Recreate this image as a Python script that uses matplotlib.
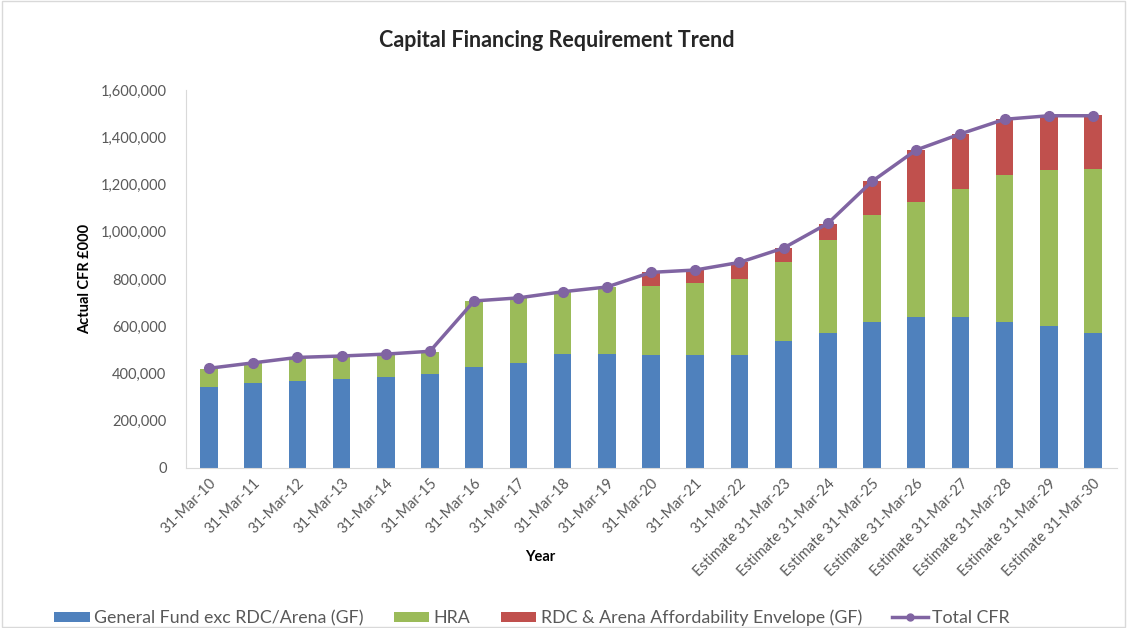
import numpy as np
import matplotlib.pyplot as plt
from matplotlib.ticker import FuncFormatter
from matplotlib.patches import Rectangle

plt.rcParams['font.family'] = ['Lato', 'DejaVu Sans']

years = ['31-Mar-10', '31-Mar-11', '31-Mar-12', '31-Mar-13', '31-Mar-14',
         '31-Mar-15', '31-Mar-16', '31-Mar-17', '31-Mar-18', '31-Mar-19',
         '31-Mar-20', '31-Mar-21', '31-Mar-22',
         'Estimate 31-Mar-23', 'Estimate 31-Mar-24', 'Estimate 31-Mar-25',
         'Estimate 31-Mar-26', 'Estimate 31-Mar-27', 'Estimate 31-Mar-28',
         'Estimate 31-Mar-29', 'Estimate 31-Mar-30']

# values in £000
general_fund = [342000, 361000, 370000, 375000, 387000, 397000, 427000, 445000,
                482000, 484000, 477000, 477000, 477000, 537000, 572000, 620000,
                641000, 641000, 620000, 599000, 572000]
hra = [76000, 82000, 95000, 97000, 93000, 96000, 278000, 274000, 262000,
       282000, 294000, 304000, 325000, 336000, 393000, 451000, 485000,
       540000, 621000, 661000, 694000]
rdc_arena = [0, 0, 0, 0, 0, 0, 0, 0, 0, 0, 57000, 55000, 68000, 58000,
             69000, 142000, 219000, 234000, 237000, 233000, 227000]
total_cfr = [422000, 445000, 468000, 474000, 482000, 494000, 707000, 720000,
             746000, 766000, 828000, 838000, 870000, 931000, 1035000, 1213000,
             1346000, 1414000, 1476000, 1491000, 1491000]

c_blue = '#4F81BD'
c_green = '#9BBB59'
c_red = '#C0504D'
c_purple = '#8064A2'
txt = '#595959'

fig = plt.figure(figsize=(11.27, 6.28), dpi=100)
ax = fig.add_axes([0.165, 0.2548, 0.826, 0.6019])

x = np.arange(len(years))
gf = np.array(general_fund)
hr = np.array(hra)
w = 0.4
b1 = ax.bar(x, gf, w, color=c_blue, label='General Fund exc RDC/Arena (GF)')
b2 = ax.bar(x, hr, w, bottom=gf, color=c_green, label='HRA')
b3 = ax.bar(x, rdc_arena, w, bottom=gf + hr, color=c_red,
            label='RDC & Arena Affordability Envelope (GF)')
ln, = ax.plot(x, total_cfr, color=c_purple, lw=2.5, marker='o', ms=7,
              label='Total CFR')

ax.set_xlim(-0.52, len(years) - 0.46)
ax.set_ylim(0, 1600000)
ax.set_yticks(np.arange(0, 1600001, 200000))
ax.yaxis.set_major_formatter(FuncFormatter(lambda v, p: f'{int(v):,}'))
ax.set_xticks(x)
ax.set_xticklabels(years, rotation=45, ha='right', rotation_mode='anchor')
ax.tick_params(axis='both', length=0, colors=txt, labelsize=10.5)
ax.tick_params(axis='y', pad=14)
ax.tick_params(axis='x', pad=6)

for s in ['top', 'right']:
    ax.spines[s].set_visible(False)
for s in ['left', 'bottom']:
    ax.spines[s].set_color('#D9D9D9')

ax.set_ylabel('Actual CFR £000', fontsize=10.5, fontweight='bold', color='black', labelpad=6)
fig.text(540 / 1127, 1 - 557 / 628, 'Year', ha='center', va='center',
         fontsize=10.5, fontweight='bold', color='black')
fig.text(0.494, 0.936, 'Capital Financing Requirement Trend', ha='center',
         va='center', fontsize=15.5, fontweight='bold', color='#262626')

leg = fig.legend([b1, b2, b3, ln],
                 ['General Fund exc RDC/Arena (GF)', 'HRA',
                  'RDC & Arena Affordability Envelope (GF)', 'Total CFR'],
                 loc='center', bbox_to_anchor=(0.472, 0.016), ncol=4, frameon=False,
                 fontsize=12.8, handlelength=2.0, handleheight=0.55, columnspacing=1.7,
                 handletextpad=0.25, labelcolor=txt)
leg.legend_handles[3].set_markersize(5)

fig.patches.append(Rectangle((0.002, 0.002), 0.996, 0.996, transform=fig.transFigure,
                             fill=False, edgecolor='#D9D9D9', lw=1))

fig.savefig('out.png', dpi=100)
